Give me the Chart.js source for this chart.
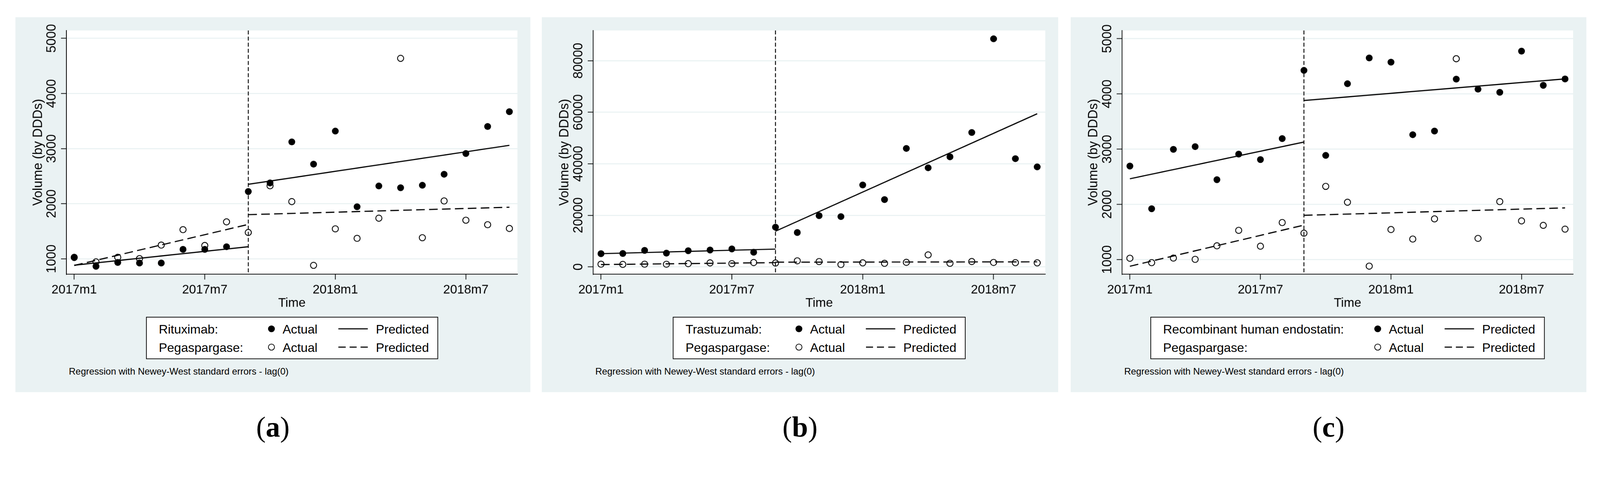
<!DOCTYPE html>
<html><head><meta charset="utf-8">
<script src="https://cdn.jsdelivr.net/npm/chart.js@4.4.1/dist/chart.umd.min.js"></script>
<style>
html,body{margin:0;padding:0;background:#fff;overflow:hidden;}
#root{position:absolute;left:0;top:0;width:4459px;height:1275px;transform-origin:0 0;font-family:"Liberation Sans",Arial,sans-serif;color:#000;background:#fff;}
.panel{position:absolute;top:48px;height:1045px;background:#eaf2f3;}
.cw{position:absolute;left:0;top:0;height:832px;}
.legend{position:absolute;top:835px;height:118px;background:#fff;border:2.5px solid #000;box-sizing:border-box;}
.lt{position:absolute;font-size:35px;line-height:35px;white-space:nowrap;transform:translateY(-50%);}
.mk{position:absolute;width:19px;height:19px;border-radius:50%;box-sizing:border-box;}
.ln{position:absolute;height:3px;width:82px;}
.note{position:absolute;left:149px;top:987px;font-size:26px;line-height:26px;transform:translateY(-50%);white-space:nowrap;}
.cap{position:absolute;top:1150px;font-family:"Liberation Serif","Times New Roman",serif;font-size:80px;line-height:80px;transform:translateX(-50%);white-space:nowrap;}
.cap b{font-weight:bold;}
</style>
</head><body>
<div id="root"></div>
<script>
// ---------- data ----------
const months = ['2017m1','2017m2','2017m3','2017m4','2017m5','2017m6','2017m7','2017m8','2017m9','2017m10','2017m11','2017m12',
                '2018m1','2018m2','2018m3','2018m4','2018m5','2018m6','2018m7','2018m8','2018m9'];
const xTickValues = [0, 6, 12, 18];
const xTickLabels = ['2017m1', '2017m7', '2018m1', '2018m7'];
const interventionMonth = 8;

const rituximab   = [1030, 865, 935, 925, 925, 1172, 1172, 1220, 2222, 2378, 3122, 2718, 3318, 1945, 2322, 2290, 2335, 2535, 2912, 3402, 3670];
const trastuzumab = [5100, 5180, 6380, 5320, 6240, 6520, 6950, 5670, 15390, 13330, 19860, 19500, 31770, 26100, 45960, 38440, 42700, 52130, 88510, 41990, 38790];
const endostatin  = [2695, 1921, 2997, 3046, 2447, 2911, 2811, 3192, 4427, 2887, 4185, 4652, 4576, 3262, 3328, 4268, 4086, 4030, 4775, 4156, 4272];
const pegaspargase = [1025, 945, 1028, 1005, 1250, 1530, 1243, 1671, 1479, 2326, 2039, 882, 1545, 1372, 1738, 4638, 1384, 2051, 1701, 1620, 1552];

const predPreX  = [0, 8];
const predPostX = [8, 20];
const rituximabPredPre     = [885, 1220];
const rituximabPredPost    = [2353, 3060];
const trastuzumabPredPre   = [5100, 6880];
const trastuzumabPredPost  = [13830, 59430];
const endostatinPredPre    = [2464, 3129];
const endostatinPredPost   = [3881, 4272];
const pegaspargasePredPre  = [880, 1625];
const pegaspargasePredPost = [1802, 1937];

const yTicksSmall  = [1000, 2000, 3000, 4000, 5000];
const yLabelsSmall = ['1000', '2000', '3000', '4000', '5000'];
const yTicksLarge  = [0, 20000, 40000, 60000, 80000];
const yLabelsLarge = ['0', '20000', '40000', '60000', '80000'];

const yTitle = 'Volume (by DDDs)';
const xTitle = 'Time';
const actualText = 'Actual';
const predictedText = 'Predicted';
const noteText = 'Regression with Newey-West standard errors - lag(0)';

// ---------- layout ----------
const panels = [
  {id:'a', left:43, width:1435, yW:142, padR:36, yMin:723, yMax:5143, ticks:yTicksSmall, labels:yLabelsSmall,
   treated:rituximab, tPre:rituximabPredPre, tPost:rituximabPredPost, name:'Rituximab:',
   legLeft:364, legWidth:814, mkC:350},
  {id:'b', left:1510, width:1439, yW:143, padR:36, yMin:-2835, yMax:91730, ticks:yTicksLarge, labels:yLabelsLarge,
   treated:trastuzumab, tPre:trastuzumabPredPre, tPost:trastuzumabPredPost, name:'Trastuzumab:',
   legLeft:365, legWidth:816, mkC:352},
  {id:'c', left:2984, width:1437, yW:143, padR:37, yMin:737, yMax:5149, ticks:yTicksSmall, labels:yLabelsSmall,
   treated:endostatin, tPre:endostatinPredPre, tPost:endostatinPredPost, name:'Recombinant human endostatin:',
   legLeft:222, legWidth:1099, mkC:634}
];
const controlName = 'Pegaspargase:';

const root = document.getElementById('root');
const sc = Math.min(window.innerWidth / 4459, window.innerHeight / 1275);
root.style.transform = 'scale(' + sc + ')';

Chart.defaults.font.family = '"Liberation Sans", Arial, sans-serif';
Chart.defaults.color = '#000';

const mctx = document.createElement('canvas').getContext('2d');
mctx.font = '36px "Liberation Sans"';

const plotBg = {id:'plotBg', beforeDraw(chart){
  const {ctx, chartArea:a} = chart; ctx.save(); ctx.fillStyle = '#fff';
  ctx.fillRect(a.left, a.top, a.right - a.left, a.bottom - a.top); ctx.restore();
}};
const xline = {id:'xline', beforeDatasetsDraw(chart){
  const {ctx, chartArea:a} = chart; const x = chart.scales.x.getPixelForValue(interventionMonth);
  ctx.save(); ctx.strokeStyle = '#000'; ctx.lineWidth = 2.5; ctx.setLineDash([11, 6]);
  ctx.beginPath(); ctx.moveTo(x, a.top); ctx.lineTo(x, a.bottom); ctx.stroke(); ctx.restore();
}};

panels.forEach(p => {
  const div = document.createElement('div');
  div.className = 'panel'; div.style.left = p.left + 'px'; div.style.width = p.width + 'px';
  root.appendChild(div);
  const cw = document.createElement('div'); cw.className = 'cw'; cw.style.width = p.width + 'px';
  const cv = document.createElement('canvas'); cw.appendChild(cv); div.appendChild(cw);

  const widest = Math.max(...p.labels.map(l => mctx.measureText(l).width));
  const yPad = 40 - 15 - widest / 2;
  const pts = arr => arr.map((v, i) => ({x: i, y: v}));
  const seg = (xs, ys) => xs.map((x, i) => ({x: x, y: ys[i]}));

  new Chart(cv, {
    type: 'scatter',
    data: {datasets: [
      {data: seg(predPreX, p.tPre), showLine:true, borderColor:'#000', borderWidth:3.2, pointRadius:0},
      {data: seg(predPostX, p.tPost), showLine:true, borderColor:'#000', borderWidth:3.2, pointRadius:0},
      {data: seg(predPreX, pegaspargasePredPre), showLine:true, borderColor:'#000', borderWidth:3.2, borderDash:[24,12], pointRadius:0},
      {data: seg(predPostX, pegaspargasePredPost), showLine:true, borderColor:'#000', borderWidth:3.2, borderDash:[24,12], pointRadius:0},
      {data: pts(p.treated), showLine:false, pointStyle:'circle', pointRadius:9.5, pointBackgroundColor:'#000', pointBorderWidth:0},
      {data: pts(pegaspargase), showLine:false, pointStyle:'circle', pointRadius:8.6, pointBackgroundColor:'rgba(0,0,0,0)', pointBorderColor:'#000', pointBorderWidth:2.4}
    ]},
    options: {
      responsive:true, maintainAspectRatio:false, animation:false, events:[], devicePixelRatio:1,
      layout: {padding: {top:37, right:p.padR, left:0, bottom:0}},
      plugins: {legend:{display:false}, tooltip:{enabled:false}},
      scales: {
        x: {type:'linear', min:-0.36, max:20.37,
            afterBuildTicks: s => { s.ticks = xTickValues.map(v => ({value:v})); },
            afterFit: s => { s.height = 116; },
            ticks: {callback:(v, i) => xTickLabels[i], font:{size:35}, color:'#000', padding:8, maxRotation:0, minRotation:0, autoSkip:false},
            grid: {drawOnChartArea:false, drawTicks:true, tickLength:15, tickColor:'#000', tickWidth:2},
            border: {display:true, color:'#000', width:2},
            title: {display:true, text:xTitle, font:{size:35}, color:'#000', padding:{top:0, bottom:14}}},
        y: {type:'linear', min:p.yMin, max:p.yMax,
            afterBuildTicks: s => { s.ticks = p.ticks.map(v => ({value:v})); },
            afterFit: s => { s.width = p.yW; },
            ticks: {callback:(v, i) => p.labels[i], font:{size:36}, color:'#000', minRotation:90, maxRotation:90, crossAlign:'center', padding:yPad, autoSkip:false},
            grid: {color:'#eaf2f3', lineWidth:3, drawTicks:true, tickLength:15, tickColor:'#000', tickWidth:2},
            border: {display:true, color:'#000', width:2},
            title: {display:true, text:yTitle, font:{size:36}, color:'#000', padding:{top:42, bottom:0}}}
      }
    },
    plugins: [plotBg, xline]
  });

  // legend
  const leg = document.createElement('div'); leg.className = 'legend';
  leg.style.left = p.legLeft + 'px'; leg.style.width = p.legWidth + 'px';
  const rows = [{name:p.name, filled:true, dashed:false, cy:31.5}, {name:controlName, filled:false, dashed:true, cy:82.5}];
  rows.forEach(r => {
    const t = document.createElement('div'); t.className = 'lt'; t.textContent = r.name;
    t.style.left = '33.5px'; t.style.top = r.cy + 'px'; leg.appendChild(t);
    const m = document.createElement('div'); m.className = 'mk';
    m.style.left = (p.mkC - 2.5 - 9.5) + 'px'; m.style.top = (r.cy - 9.5) + 'px';
    if (r.filled) m.style.background = '#000'; else m.style.border = '2.4px solid #000';
    leg.appendChild(m);
    const a = document.createElement('div'); a.className = 'lt'; a.textContent = actualText;
    a.style.left = (p.mkC - 2.5 + 31) + 'px'; a.style.top = r.cy + 'px'; leg.appendChild(a);
    const l = document.createElement('div'); l.className = 'ln';
    l.style.left = (p.mkC - 2.5 + 186) + 'px'; l.style.top = (r.cy - 1.5) + 'px';
    l.style.background = r.dashed ? 'repeating-linear-gradient(to right,#000 0 20px,transparent 20px 31px)' : '#000';
    leg.appendChild(l);
    const pr = document.createElement('div'); pr.className = 'lt'; pr.textContent = predictedText;
    pr.style.left = (p.mkC - 2.5 + 291) + 'px'; pr.style.top = r.cy + 'px'; leg.appendChild(pr);
  });
  div.appendChild(leg);

  const note = document.createElement('div'); note.className = 'note'; note.textContent = noteText;
  div.appendChild(note);

  const cap = document.createElement('div'); cap.className = 'cap';
  cap.style.left = (p.left + p.width / 2) + 'px';
  cap.innerHTML = '(<b>' + p.id + '</b>)';
  root.appendChild(cap);
});
</script>
</body></html>
